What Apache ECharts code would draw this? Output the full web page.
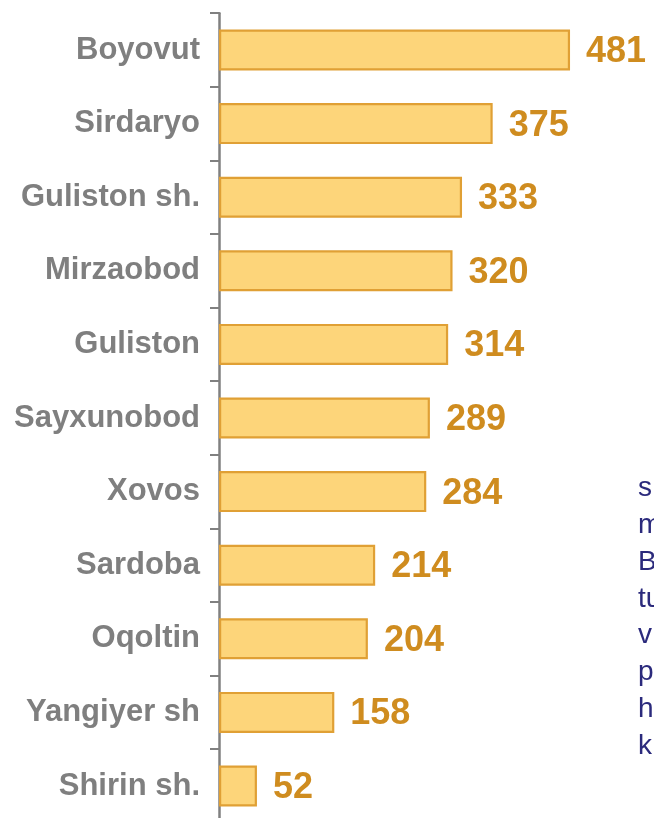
<!DOCTYPE html>
<html>
<head>
<meta charset="utf-8">
<script src="https://cdn.jsdelivr.net/npm/echarts@6/dist/echarts.min.js"></script>
<style>
html,body{margin:0;padding:0;background:#fff;}
#c{width:654px;height:818px;}
</style>
</head>
<body>
<div id="c"></div>
<script>
var categories = ['Boyovut','Sirdaryo','Guliston sh.','Mirzaobod','Guliston','Sayxunobod','Xovos','Sardoba','Oqoltin','Yangiyer sh','Shirin sh.'];
var values = [481,375,333,320,314,289,284,214,204,158,52];
var sideText = ['s','m','B','tu','v','p','h','k'];

var chart = echarts.init(document.getElementById('c'), null, {renderer:'canvas'});
chart.setOption({
  animation:false,
  backgroundColor:'#ffffff',
  grid:{left:219, top:13.2, width:364.9, height:809.6, containLabel:false, outerBoundsMode:'none'},
  xAxis:{type:'value', min:0, max:500, show:false},
  yAxis:{
    type:'category', data:categories, inverse:true,
    axisLine:{show:true, lineStyle:{color:'#808080', width:2.5}},
    axisTick:{show:true, length:9, lineStyle:{color:'#808080', width:2}},
    axisLabel:{margin:19, color:'#7f7f7f', fontSize:31, fontWeight:'bold', fontFamily:'Liberation Sans, Arial, sans-serif'},
    splitLine:{show:false}
  },
  series:[{
    type:'bar', data:values, barWidth:41,
    itemStyle:{color:'#fdd57a', borderColor:'#e0a035', borderWidth:2.2},
    label:{show:true, position:'right', distance:16, color:'#cf8c1f', fontSize:36, fontWeight:'bold', fontFamily:'Liberation Sans, Arial, sans-serif', offset:[0,2]}
  }],
  graphic:[{
    type:'text', left:638, top:470,
    style:{text:sideText.join('\n'), fill:'#2b2a7c', fontSize:28, lineHeight:36.8, fontFamily:'Liberation Sans, Arial, sans-serif'}
  }]
});
</script>
</body>
</html>
